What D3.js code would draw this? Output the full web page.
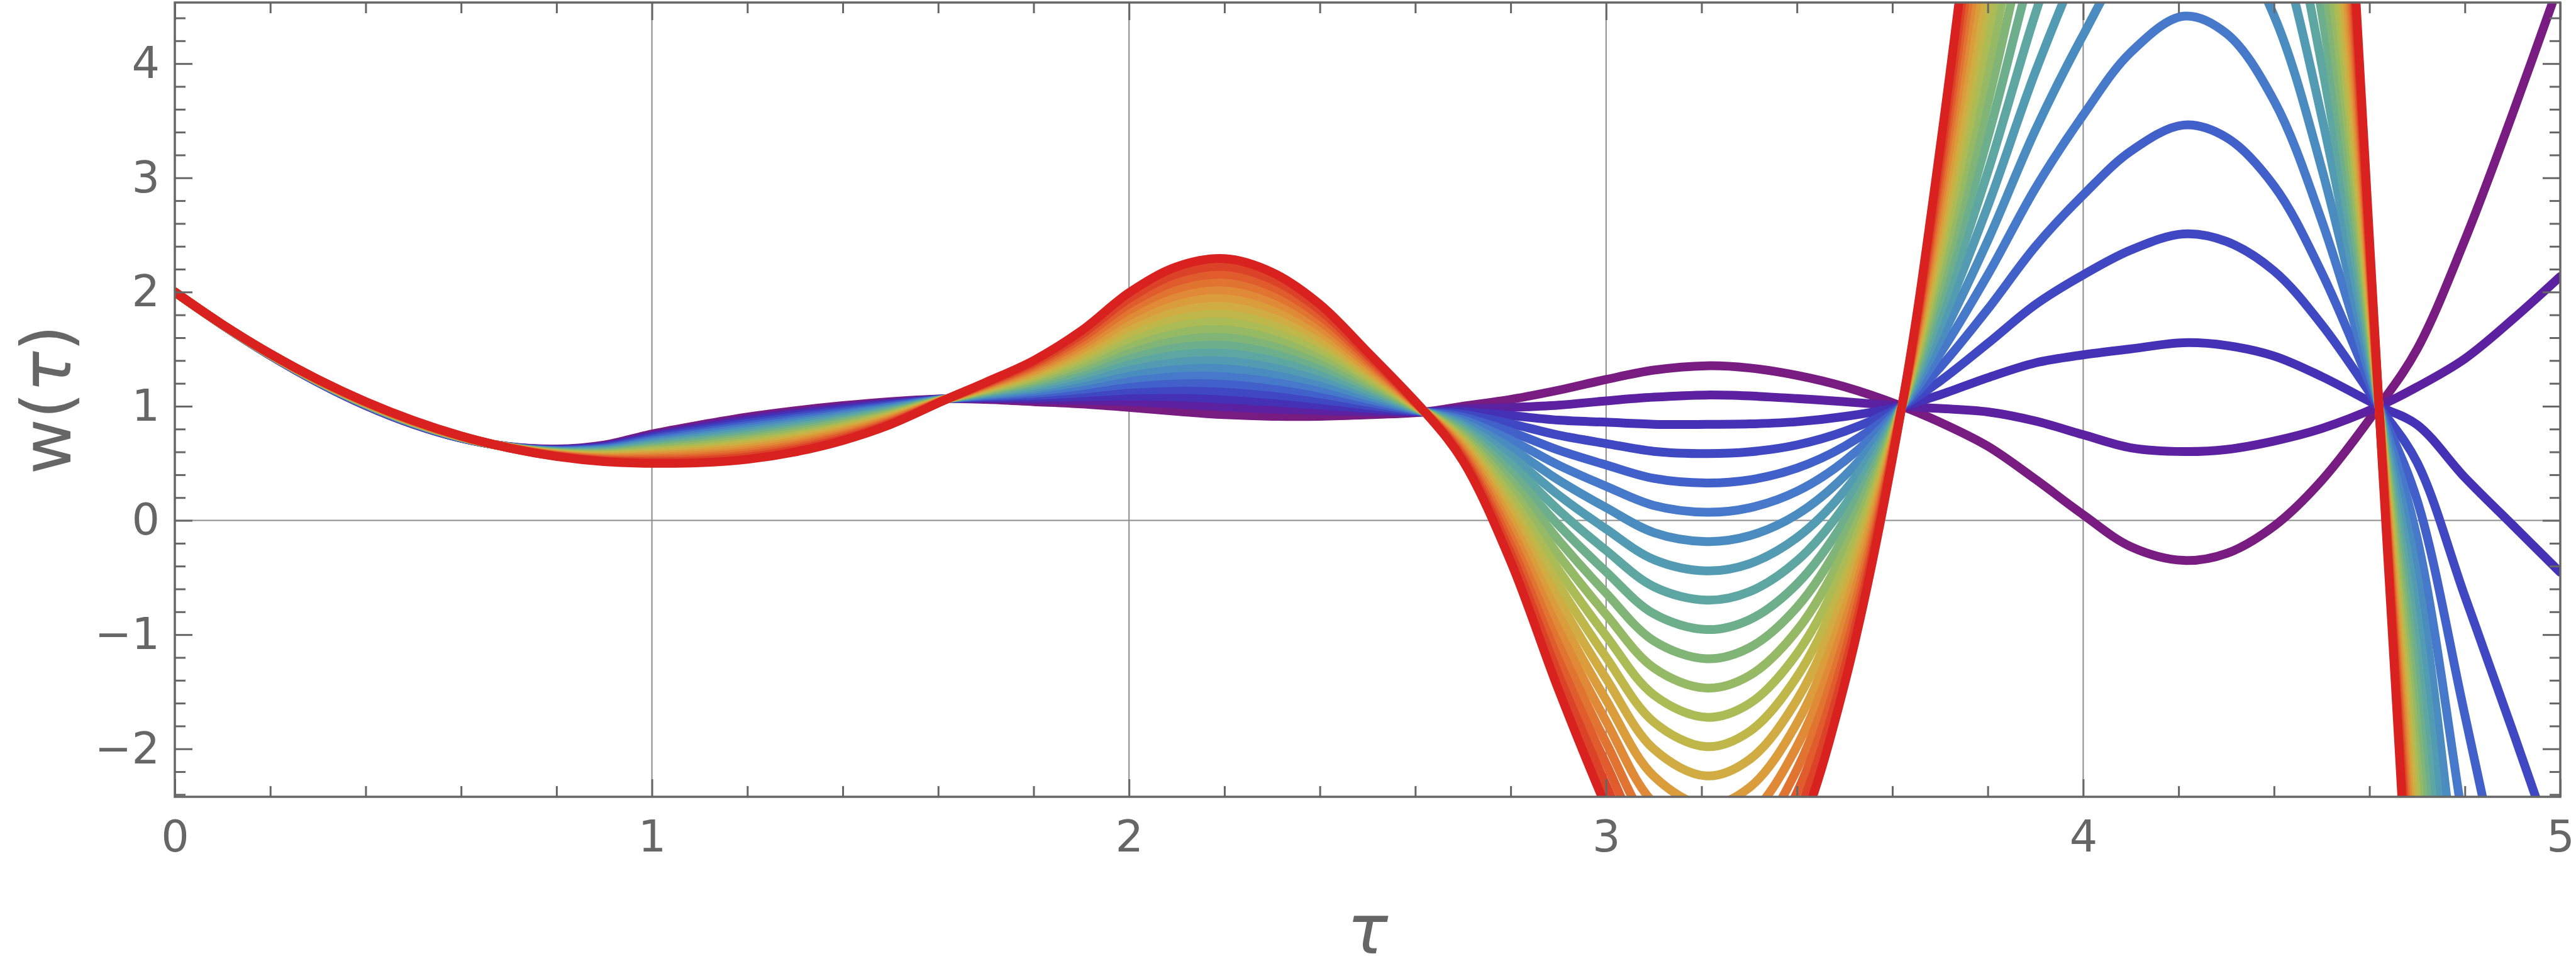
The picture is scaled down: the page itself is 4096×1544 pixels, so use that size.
<!DOCTYPE html>
<html><head><meta charset="utf-8">
<script src="https://cdn.jsdelivr.net/npm/d3@7"></script>
<style>html,body{margin:0;padding:0;background:#fff;} svg{display:block;}</style>
</head><body>
<svg id="chart" width="4096" height="1544"></svg>
<script>
// ---- data ----
const tau = [0,0.1,0.2,0.3,0.4,0.5,0.6,0.7,0.8,0.9,1.0,1.1,1.2,1.3,1.4,1.5,1.62,1.7,1.8,1.9,2.0,2.1,2.2,2.3,2.4,2.5,2.62,2.7,2.8,2.9,3.0,3.1,3.21,3.3,3.4,3.5,3.62,3.7,3.8,3.9,4.0,4.1,4.21,4.3,4.4,4.5,4.62,4.7,4.8,4.9,5.0];

const w0 = [2,1.711,1.445,1.209,1.006,0.842,0.720,0.647,0.625,0.660,0.757,0.835,0.905,0.960,1.005,1.040,1.066,1.060,1.040,1.020,0.990,0.955,0.926,0.912,0.912,0.925,0.950,1.000,1.060,1.140,1.234,1.316,1.354,1.335,1.270,1.170,1.000,0.86,0.65,0.36,0.05,-0.23,-0.350,-0.290,-0.050,0.350,1.000,1.500,2.456,3.56,4.726];
const w1 = [2,1.711,1.446,1.210,1.008,0.844,0.721,0.646,0.622,0.653,0.744,0.819,0.887,0.942,0.990,1.030,1.066,1.068,1.058,1.052,1.040,1.018,0.994,0.975,0.961,0.953,0.950,0.976,0.989,1.009,1.047,1.079,1.098,1.090,1.067,1.040,1.000,0.98,0.95,0.87,0.75,0.636,0.603,0.621,0.695,0.805,1.000,1.169,1.416,1.76,2.136];
const w2 = [2,1.711,1.447,1.212,1.010,0.845,0.722,0.645,0.618,0.646,0.731,0.802,0.868,0.924,0.975,1.020,1.066,1.075,1.076,1.084,1.090,1.082,1.063,1.038,1.010,0.980,0.950,0.952,0.918,0.878,0.860,0.842,0.841,0.845,0.864,0.910,1.000,1.10,1.25,1.38,1.45,1.502,1.556,1.532,1.440,1.260,1.000,0.838,0.376,-0.04,-0.454];
const w3 = [2,1.711,1.448,1.213,1.011,0.847,0.723,0.645,0.615,0.638,0.718,0.786,0.850,0.906,0.959,1.010,1.066,1.083,1.094,1.116,1.141,1.145,1.131,1.101,1.059,1.008,0.950,0.928,0.847,0.747,0.673,0.605,0.585,0.600,0.661,0.780,1.000,1.22,1.55,1.89,2.15,2.368,2.509,2.443,2.185,1.715,1.000,0.507,-0.664,-1.84,-3.044];
const w4 = [2,1.712,1.448,1.214,1.013,0.849,0.724,0.644,0.612,0.631,0.706,0.769,0.831,0.888,0.944,1.000,1.066,1.090,1.112,1.148,1.191,1.208,1.199,1.164,1.108,1.035,0.950,0.904,0.776,0.616,0.486,0.368,0.328,0.355,0.458,0.650,1.000,1.34,1.85,2.40,2.85,3.234,3.462,3.354,2.930,2.170,1.000,0.176,-1.704,-3.64,-5.634];
const w5 = [2,1.712,1.449,1.216,1.015,0.850,0.725,0.644,0.609,0.624,0.693,0.753,0.813,0.870,0.929,0.990,1.066,1.098,1.130,1.180,1.241,1.272,1.268,1.227,1.157,1.063,0.950,0.880,0.705,0.485,0.299,0.131,0.072,0.110,0.255,0.520,1.000,1.46,2.15,2.91,3.55,4.10,4.415,4.265,3.675,2.625,1.000,-0.155,-2.744,-5.44,-8.224];
const w6 = [2,1.712,1.450,1.217,1.016,0.852,0.726,0.643,0.605,0.617,0.680,0.736,0.794,0.852,0.914,0.980,1.066,1.105,1.148,1.212,1.291,1.335,1.336,1.290,1.206,1.090,0.950,0.856,0.634,0.354,0.112,-0.106,-0.185,-0.135,0.052,0.390,1.000,1.58,2.45,3.42,4.25,4.966,5.368,5.176,4.420,3.080,1.000,-0.486,-3.784,-7.24,-10.814];
const w7 = [2,1.712,1.451,1.218,1.018,0.853,0.727,0.642,0.602,0.609,0.667,0.720,0.776,0.834,0.898,0.970,1.066,1.113,1.166,1.244,1.341,1.398,1.404,1.353,1.255,1.118,0.950,0.832,0.563,0.223,-0.075,-0.343,-0.442,-0.380,-0.151,0.260,1.000,1.70,2.75,3.93,4.95,5.832,6.321,6.087,5.165,3.535,1.000,-0.817,-4.824,-9.04,-13.404];
const w8 = [2,1.712,1.451,1.219,1.020,0.855,0.728,0.642,0.599,0.602,0.654,0.703,0.757,0.816,0.883,0.960,1.066,1.120,1.184,1.276,1.392,1.461,1.472,1.416,1.304,1.145,0.950,0.808,0.492,0.092,-0.262,-0.580,-0.698,-0.625,-0.354,0.130,1.000,1.82,3.05,4.44,5.65,6.698,7.274,6.998,5.910,3.990,1.000,-1.148,-5.864,-10.84,-15.994];
const w9 = [2,1.713,1.452,1.221,1.021,0.857,0.729,0.641,0.596,0.595,0.641,0.687,0.739,0.798,0.868,0.950,1.066,1.128,1.202,1.308,1.442,1.525,1.541,1.479,1.353,1.173,0.950,0.784,0.421,-0.039,-0.449,-0.817,-0.955,-0.870,-0.557,0.000,1.000,1.94,3.35,4.95,6.35,7.564,8.227,7.909,6.655,4.445,1.000,-1.479,-6.904,-12.64,-18.584];
const w10 = [2,1.713,1.453,1.222,1.023,0.858,0.730,0.641,0.592,0.588,0.629,0.670,0.720,0.780,0.853,0.940,1.066,1.135,1.220,1.340,1.492,1.588,1.609,1.542,1.402,1.200,0.950,0.760,0.350,-0.170,-0.636,-1.054,-1.211,-1.115,-0.760,-0.130,1.000,2.06,3.65,5.46,7.05,8.43,9.180,8.820,7.400,4.900,1.000,-1.810,-7.944,-14.44,-21.174];
const w11 = [2,1.713,1.453,1.223,1.025,0.860,0.731,0.640,0.589,0.580,0.616,0.654,0.702,0.762,0.837,0.930,1.066,1.143,1.238,1.372,1.542,1.651,1.677,1.605,1.451,1.228,0.950,0.736,0.279,-0.301,-0.823,-1.291,-1.468,-1.360,-0.963,-0.260,1.000,2.18,3.95,5.97,7.75,9.296,10.133,9.731,8.145,5.355,1.000,-2.141,-8.984,-16.24,-23.764];
const w12 = [2,1.713,1.454,1.225,1.026,0.862,0.732,0.640,0.586,0.573,0.603,0.637,0.683,0.744,0.822,0.920,1.066,1.150,1.256,1.404,1.592,1.715,1.746,1.668,1.500,1.255,0.950,0.712,0.208,-0.432,-1.010,-1.528,-1.724,-1.605,-1.166,-0.390,1.000,2.30,4.25,6.48,8.45,10.162,11.086,10.642,8.890,5.810,1.000,-2.472,-10.024,-18.04,-26.354];
const w13 = [2,1.714,1.455,1.226,1.028,0.863,0.733,0.639,0.583,0.566,0.590,0.621,0.665,0.726,0.807,0.910,1.066,1.158,1.274,1.436,1.643,1.778,1.814,1.731,1.549,1.283,0.950,0.688,0.137,-0.563,-1.197,-1.765,-1.981,-1.850,-1.369,-0.520,1.000,2.42,4.55,6.99,9.15,11.028,12.039,11.553,9.635,6.265,1.000,-2.803,-11.064,-19.84,-28.944];
const w14 = [2,1.714,1.456,1.227,1.030,0.865,0.734,0.638,0.579,0.558,0.577,0.604,0.646,0.708,0.792,0.900,1.066,1.165,1.292,1.468,1.693,1.841,1.882,1.794,1.598,1.310,0.950,0.664,0.066,-0.694,-1.384,-2.002,-2.237,-2.095,-1.572,-0.650,1.000,2.54,4.85,7.50,9.85,11.894,12.992,12.464,10.380,6.720,1.000,-3.134,-12.104,-21.64,-31.534];
const w15 = [2,1.714,1.456,1.229,1.032,0.867,0.735,0.638,0.576,0.551,0.564,0.588,0.628,0.690,0.776,0.890,1.066,1.173,1.310,1.500,1.743,1.905,1.951,1.857,1.647,1.338,0.950,0.640,-0.005,-0.825,-1.571,-2.239,-2.494,-2.340,-1.775,-0.780,1.000,2.66,5.15,8.01,10.55,12.76,13.945,13.375,11.125,7.175,1.000,-3.465,-13.144,-23.44,-34.124];
const w16 = [2,1.714,1.457,1.230,1.033,0.868,0.736,0.637,0.573,0.544,0.551,0.571,0.609,0.672,0.761,0.880,1.066,1.180,1.328,1.532,1.793,1.968,2.019,1.920,1.696,1.365,0.950,0.616,-0.076,-0.956,-1.758,-2.476,-2.750,-2.585,-1.978,-0.910,1.000,2.78,5.45,8.52,11.25,13.626,14.898,14.286,11.870,7.630,1.000,-3.796,-14.184,-25.24,-36.714];
const w17 = [2,1.714,1.458,1.231,1.035,0.870,0.737,0.637,0.570,0.537,0.539,0.555,0.591,0.654,0.746,0.870,1.066,1.188,1.346,1.564,1.843,2.031,2.087,1.983,1.745,1.393,0.950,0.592,-0.147,-1.087,-1.945,-2.713,-3.007,-2.830,-2.181,-1.040,1.000,2.90,5.75,9.03,11.95,14.492,15.851,15.197,12.615,8.085,1.000,-4.127,-15.224,-27.04,-39.304];
const w18 = [2,1.715,1.459,1.232,1.037,0.872,0.738,0.636,0.566,0.529,0.526,0.538,0.572,0.636,0.731,0.860,1.066,1.195,1.364,1.596,1.894,2.094,2.155,2.046,1.794,1.420,0.950,0.568,-0.218,-1.218,-2.132,-2.950,-3.263,-3.075,-2.384,-1.170,1.000,3.02,6.05,9.54,12.65,15.358,16.804,16.108,13.360,8.540,1.000,-4.458,-16.264,-28.84,-41.894];
const w19 = [2,1.715,1.459,1.234,1.038,0.873,0.739,0.636,0.563,0.522,0.513,0.522,0.554,0.618,0.715,0.850,1.066,1.203,1.382,1.628,1.944,2.158,2.224,2.109,1.843,1.448,0.950,0.544,-0.289,-1.349,-2.319,-3.187,-3.520,-3.320,-2.587,-1.300,1.000,3.14,6.35,10.05,13.35,16.224,17.757,17.019,14.105,8.995,1.000,-4.789,-17.304,-30.64,-44.484];
const w20 = [2,1.715,1.460,1.235,1.040,0.875,0.740,0.635,0.560,0.515,0.500,0.505,0.535,0.600,0.700,0.840,1.066,1.210,1.400,1.660,1.994,2.221,2.292,2.172,1.892,1.475,0.950,0.520,-0.360,-1.480,-2.506,-3.424,-3.776,-3.565,-2.790,-1.430,1.000,3.26,6.65,10.56,14.05,17.09,18.710,17.930,14.850,9.450,1.000,-5.120,-18.344,-32.44,-47.074];

const xTickValues = [0,1,2,3,4,5];
const yTickValues = [-2,-1,0,1,2,3,4];
const gridX = [1,2,3,4];
const gridY = [0];
const xTitle = "τ";
const yTitleParts = ["w(", "τ", ")"];

// ---- style ----
const palette = ["#781c81","#5b21a0","#4431b6","#3f47c3","#4160c9","#4679c9","#4b8cc0","#539bb3","#5ea6a2","#6daf8d","#80b577","#95b964","#abbb55","#c0b74a","#d1ac42","#db9d3c","#e08a37","#e27432","#e05c2d","#dc4227","#d92120"];
const series = [w0,w1,w2,w3,w4,w5,w6,w7,w8,w9,w10,w11,w12,w13,w14,w15,w16,w17,w18,w19,w20];

const L = 278, R = 4071, T = 4, B = 1267;
const axisColor = "#666666";
const font = "DejaVu Sans, sans-serif";

const svg = d3.select("#chart");
const x = d3.scaleLinear().domain([0, 5]).range([L, R]);
const y = d3.scaleLinear().domain([-2.42, 4.535]).range([B, T]);

svg.append("defs").append("clipPath").attr("id", "plotclip")
  .append("rect").attr("x", L).attr("y", T).attr("width", R - L).attr("height", B - T);

// grid lines
const grid = svg.append("g").attr("stroke", "#8c8c8c").attr("stroke-width", 2);
grid.selectAll("line.gx").data(gridX).join("line").attr("class", "gx")
  .attr("x1", d => x(d)).attr("x2", d => x(d)).attr("y1", T).attr("y2", B);
grid.selectAll("line.gy").data(gridY).join("line").attr("class", "gy")
  .attr("x1", L).attr("x2", R).attr("y1", d => y(d)).attr("y2", d => y(d));

// curves
const line = d3.line()
  .x((d, i) => x(tau[i]))
  .y(d => y(d))
  .curve(d3.curveCatmullRom.alpha(0.5));

svg.append("g").attr("clip-path", "url(#plotclip)")
  .selectAll("path").data(series).join("path")
  .attr("d", d => line(d))
  .attr("fill", "none")
  .attr("stroke", (d, i) => palette[i])
  .attr("stroke-width", 14)
  .attr("stroke-linejoin", "round")
  .attr("stroke-linecap", "round");

// axes
const minorX = d3.range(0, 5.0001, 0.2).filter(v => Math.abs(v - Math.round(v)) > 1e-6);
const minorY = d3.range(-2.4, 4.5001, 0.2).filter(v => Math.abs(v - Math.round(v)) > 1e-6);

function styleAxis(g) {
  g.select(".domain").remove();
  g.attr("color", axisColor).attr("font-family", font).attr("font-size", 70);
  g.selectAll(".tick line").attr("stroke-width", 3);
}

svg.append("g").attr("transform", `translate(0,${B})`)
  .call(d3.axisBottom(x).tickValues(xTickValues).tickSize(-28).tickPadding(37).tickFormat(d3.format("d")))
  .call(styleAxis);
svg.append("g").attr("transform", `translate(0,${B})`)
  .call(d3.axisBottom(x).tickValues(minorX).tickSize(-17).tickFormat(""))
  .call(styleAxis);
svg.append("g").attr("transform", `translate(0,${T})`)
  .call(d3.axisTop(x).tickValues(xTickValues).tickSize(-28).tickFormat(""))
  .call(styleAxis);
svg.append("g").attr("transform", `translate(0,${T})`)
  .call(d3.axisTop(x).tickValues(minorX).tickSize(-17).tickFormat(""))
  .call(styleAxis);

svg.append("g").attr("transform", `translate(${L},0)`)
  .call(d3.axisLeft(y).tickValues(yTickValues).tickSize(-28).tickPadding(24).tickFormat(d3.format("d")))
  .call(styleAxis);
svg.append("g").attr("transform", `translate(${L},0)`)
  .call(d3.axisLeft(y).tickValues(minorY).tickSize(-17).tickFormat(""))
  .call(styleAxis);
svg.append("g").attr("transform", `translate(${R},0)`)
  .call(d3.axisRight(y).tickValues(yTickValues).tickSize(-28).tickFormat(""))
  .call(styleAxis);
svg.append("g").attr("transform", `translate(${R},0)`)
  .call(d3.axisRight(y).tickValues(minorY).tickSize(-17).tickFormat(""))
  .call(styleAxis);

// frame
svg.append("rect").attr("x", L).attr("y", T).attr("width", R - L).attr("height", B - T)
  .attr("fill", "none").attr("stroke", axisColor).attr("stroke-width", 3.5);

// titles
svg.append("text").attr("x", (L + R) / 2).attr("y", 1516)
  .attr("text-anchor", "middle").attr("font-family", font).attr("font-size", 108)
  .attr("font-style", "italic").attr("fill", axisColor).text(xTitle);

const yt = svg.append("text")
  .attr("transform", `translate(112,${(T + B) / 2}) rotate(-90)`)
  .attr("text-anchor", "middle").attr("font-family", font).attr("font-size", 108)
  .attr("fill", axisColor);
yt.append("tspan").text(yTitleParts[0]);
yt.append("tspan").attr("font-style", "italic").text(yTitleParts[1]);
yt.append("tspan").text(yTitleParts[2]);
</script>
</body></html>
